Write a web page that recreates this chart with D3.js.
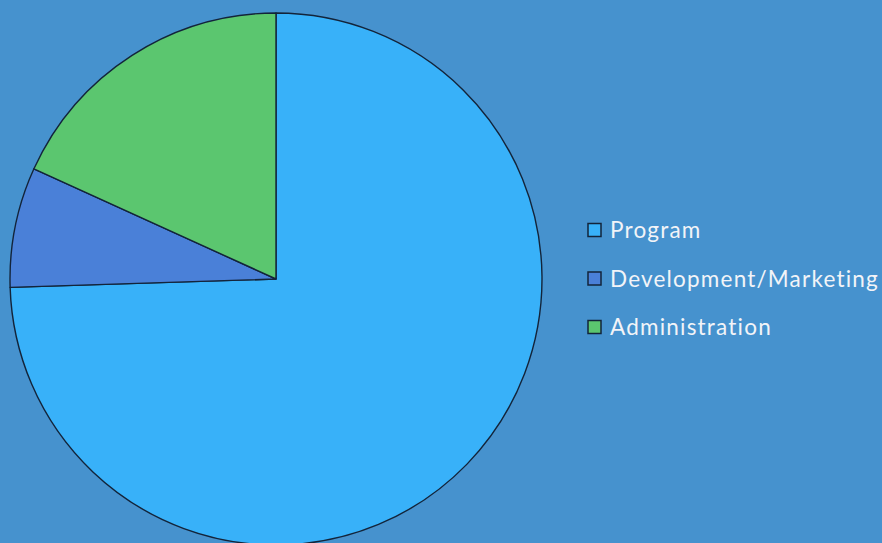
<!DOCTYPE html>
<html><head><meta charset="utf-8">
<script src="https://cdn.jsdelivr.net/npm/d3@7"></script>
<style>html,body{margin:0;padding:0;background:#4692ce;overflow:hidden}</style>
</head><body>
<script>
const categories = ["Program", "Development/Marketing", "Administration"];
const values = [74.5, 7.3, 18.2];
const colors = ["#38b1f9", "#4a80d8", "#5bc66f"];

const W = 882, H = 543;
const svg = d3.select("body").append("svg").attr("width", W).attr("height", H);
svg.append("rect").attr("width", W).attr("height", H).attr("fill", "#4692ce");

const cx = 276, cy = 279, r = 266;
const pie = d3.pie().sort(null).value(d => d.v);
const arc = d3.arc().innerRadius(0).outerRadius(r);
const data = categories.map((c, i) => ({c, v: values[i], col: colors[i]}));
const g = svg.append("g").attr("transform", `translate(${cx},${cy})`);
g.selectAll("path").data(pie(data)).join("path")
  .attr("d", arc).attr("fill", d => d.data.col)
  .attr("stroke", "#13243a").attr("stroke-width", 1.4).attr("stroke-linejoin", "round");

const y = d3.scalePoint().domain(categories).range([230.5, 327.5]);
const lg = svg.append("g");
const item = lg.selectAll("g").data(data).join("g")
  .attr("transform", d => `translate(588,${y(d.c)})`);
item.append("rect").attr("x", 0).attr("y", -7).attr("width", 13).attr("height", 13)
  .attr("fill", d => d.col).attr("stroke", "#13243a").attr("stroke-width", 1.5);
item.append("text").attr("x", 22).attr("y", 7.5)
  .attr("font-family", "Lato, 'Open Sans', sans-serif").attr("font-size", 22.5)
  .attr("letter-spacing", 1.2)
  .attr("fill", "#f2f4f8").text(d => d.c);
</script>
</body></html>
